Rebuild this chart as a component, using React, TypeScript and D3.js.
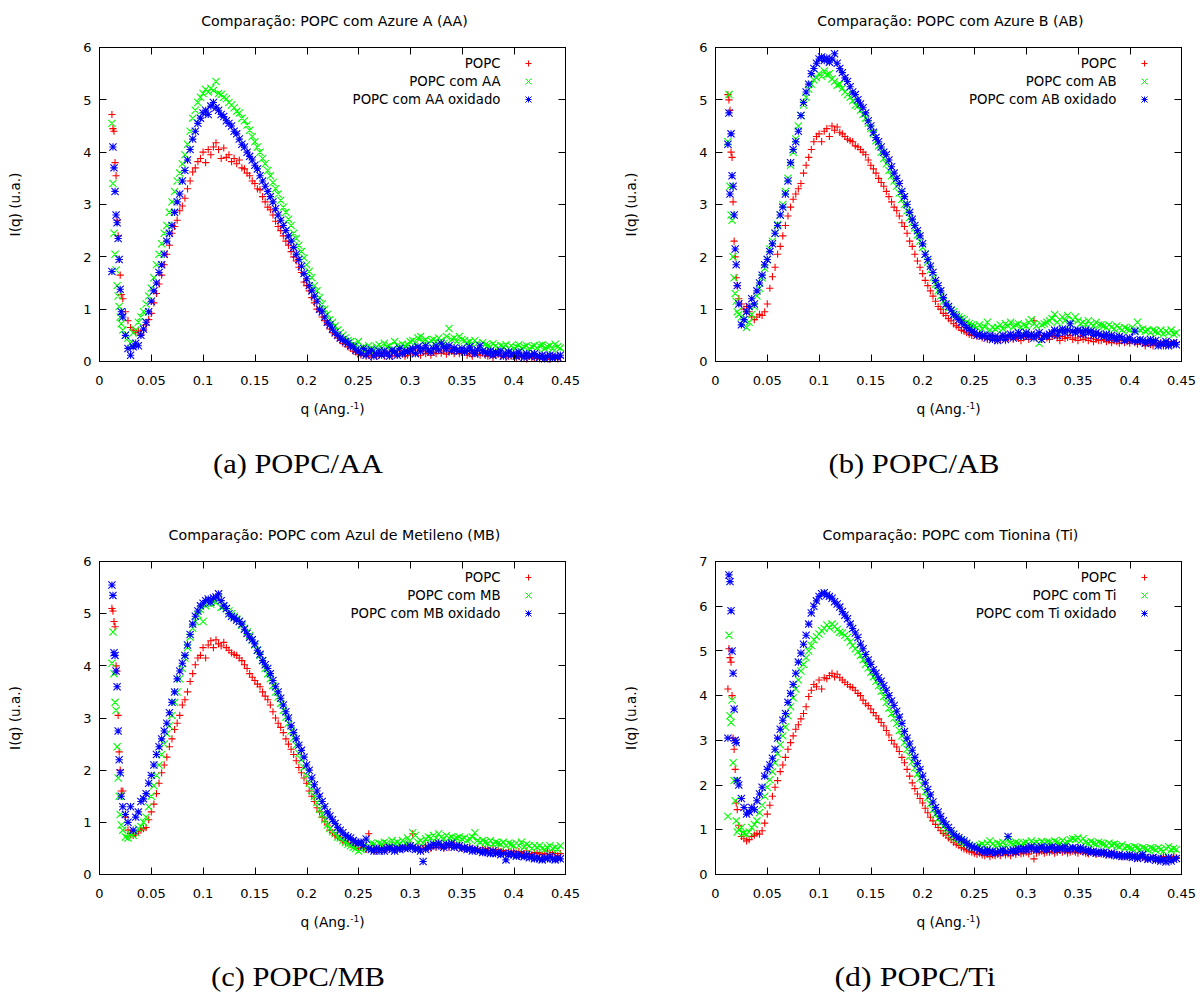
import React from 'react';
import * as d3 from 'd3';

// shared q grid (Ang^-1)
const Q = [
  0.012, 0.013, 0.014, 0.015, 0.016, 0.017, 0.018, 0.019, 0.020, 0.021,
  0.0225, 0.025, 0.0275, 0.03, 0.0325, 0.035, 0.0375, 0.04, 0.0425, 0.045,
  0.0475, 0.05, 0.0525, 0.055, 0.0575, 0.06, 0.0625, 0.065, 0.0675, 0.07,
  0.0725, 0.075, 0.0775, 0.08, 0.0825, 0.085, 0.0875, 0.09, 0.0925, 0.095,
  0.0975, 0.1, 0.1025, 0.105, 0.1075, 0.11, 0.1125, 0.115, 0.1175, 0.12,
  0.1225, 0.125, 0.1275, 0.13, 0.1325, 0.135, 0.1375, 0.14, 0.1425, 0.145,
  0.1475, 0.15, 0.1525, 0.155, 0.1575, 0.16, 0.1625, 0.165, 0.1675, 0.17,
  0.1725, 0.175, 0.1775, 0.18, 0.1825, 0.185, 0.1875, 0.19, 0.1925, 0.195,
  0.1975, 0.2, 0.2025, 0.205, 0.2075, 0.21, 0.2125, 0.215, 0.2175, 0.22,
  0.2225, 0.225, 0.2275, 0.23, 0.2325, 0.235, 0.2375, 0.24, 0.2425, 0.245,
  0.2475, 0.25, 0.2525, 0.255, 0.2575, 0.26, 0.2625, 0.265, 0.2675, 0.27,
  0.2725, 0.275, 0.2775, 0.28, 0.2825, 0.285, 0.2875, 0.29, 0.2925, 0.295,
  0.2975, 0.3, 0.3025, 0.305, 0.3075, 0.31, 0.3125, 0.315, 0.3175, 0.32,
  0.3225, 0.325, 0.3275, 0.33, 0.3325, 0.335, 0.3375, 0.34, 0.3425, 0.345,
  0.3475, 0.35, 0.3525, 0.355, 0.3575, 0.36, 0.3625, 0.365, 0.3675, 0.37,
  0.3725, 0.375, 0.3775, 0.38, 0.3825, 0.385, 0.3875, 0.39, 0.3925, 0.395,
  0.3975, 0.4, 0.4025, 0.405, 0.4075, 0.41, 0.4125, 0.415, 0.4175, 0.42,
  0.4225, 0.425, 0.4275, 0.43, 0.4325, 0.435, 0.4375, 0.44, 0.4425, 0.445,
];

// ---------- (a) Azure A ----------
const A_POPC = [
  4.72, 4.45, 4.4, 3.8, 3.55, 2.7, 2.4, 1.95, 1.65, 1.28,
  1.2, 0.95, 0.78, 0.65, 0.6, 0.55, 0.58, 0.52, 0.6, 0.7,
  0.8, 0.92, 1.12, 1.3, 1.48, 1.65, 1.85, 2.05, 2.22, 2.45,
  2.58, 2.7, 2.88, 2.97, 3.12, 3.3, 3.45, 3.62, 3.7, 3.82,
  3.88, 4.0, 3.8, 4.05, 3.95, 4.1, 4.18, 4.05, 3.88, 4.08,
  3.9, 3.95, 3.82, 3.88, 3.78, 3.85, 3.7, 3.68, 3.6, 3.55,
  3.45, 3.4, 3.3, 3.28, 3.15, 3.05, 2.95, 2.9, 2.8, 2.68,
  2.58, 2.5, 2.4, 2.3, 2.22, 2.1, 2.0, 1.92, 1.8, 1.7,
  1.52, 1.45, 1.35, 1.22, 1.12, 1.0, 0.95, 0.85, 0.78, 0.7,
  0.62, 0.55, 0.52, 0.45, 0.4, 0.35, 0.33, 0.28, 0.25, 0.2,
  0.18, 0.14, 0.12, 0.15, 0.1, 0.12, 0.08, 0.14, 0.1, 0.12,
  0.15, 0.1, 0.18, 0.12, 0.1, 0.16, 0.12, 0.2, 0.14, 0.1,
  0.12, 0.18, 0.15, 0.22, 0.16, 0.12, 0.2, 0.15, 0.18, 0.12,
  0.18, 0.15, 0.22, 0.16, 0.2, 0.14, 0.18, 0.25, 0.15, 0.2,
  0.15, 0.2, 0.18, 0.12, 0.15, 0.1, 0.18, 0.14, 0.12, 0.16,
  0.12, 0.1, 0.15, 0.08, 0.12, 0.14, 0.1, 0.12, 0.08, 0.1,
  0.1, 0.12, 0.06, 0.1, 0.08, 0.12, 0.05, 0.1, 0.08, 0.06,
  0.08, 0.05, 0.1, 0.06, 0.08, 0.04, 0.1, 0.06, 0.05, 0.08,
];
const A_DYE = [
  4.55, 3.4, 2.45, 2.05, 1.75, 1.45, 1.25, 1.05, 0.85, 0.72,
  0.6, 0.5, 0.45, 0.35, 0.55, 0.6, 0.75, 0.85, 0.95, 1.1,
  1.25, 1.4, 1.6, 1.85, 2.05, 2.25, 2.45, 2.6, 2.85, 3.05,
  3.25, 3.45, 3.6, 3.78, 3.95, 4.15, 4.4, 4.65, 4.8, 4.95,
  5.05, 5.12, 5.2, 5.15, 5.22, 5.18, 5.35, 5.12, 5.1, 5.05,
  5.02, 4.95, 4.9, 4.85, 4.78, 4.75, 4.65, 4.6, 4.52, 4.42,
  4.3, 4.2, 4.1, 4.0, 3.88, 3.78, 3.65, 3.55, 3.42, 3.3,
  3.2, 3.08, 2.95, 2.85, 2.72, 2.6, 2.45, 2.35, 2.22, 2.1,
  1.98, 1.85, 1.72, 1.6, 1.45, 1.35, 1.22, 1.1, 1.0, 0.9,
  0.8, 0.75, 0.68, 0.6, 0.55, 0.5, 0.45, 0.4, 0.38, 0.32,
  0.3, 0.38, 0.25, 0.28, 0.22, 0.3, 0.26, 0.2, 0.28, 0.32,
  0.25, 0.35, 0.28, 0.3, 0.22, 0.38, 0.3, 0.26, 0.33, 0.3,
  0.32, 0.38, 0.4, 0.35, 0.45, 0.48, 0.38, 0.42, 0.35, 0.4,
  0.42, 0.38, 0.45, 0.4, 0.35, 0.48, 0.63, 0.42, 0.45, 0.38,
  0.48, 0.42, 0.4, 0.36, 0.38, 0.32, 0.4, 0.35, 0.3, 0.36,
  0.32, 0.3, 0.28, 0.34, 0.3, 0.26, 0.3, 0.28, 0.32, 0.25,
  0.3, 0.26, 0.28, 0.32, 0.25, 0.28, 0.3, 0.24, 0.28, 0.3,
  0.26, 0.3, 0.32, 0.25, 0.28, 0.3, 0.24, 0.33, 0.28, 0.26,
];
const A_OX = [
  1.72, 4.1, 3.7, 3.25, 2.8, 2.65, 2.35, 1.95, 1.38, 0.95,
  0.85, 0.5, 0.25, 0.12, 0.28, 0.35, 0.3, 0.5, 0.62, 0.75,
  0.95, 1.15, 1.35, 1.5, 1.7, 1.85, 2.05, 2.3, 2.45, 2.6,
  2.85, 3.05, 3.2, 3.45, 3.65, 3.85, 4.05, 4.25, 4.4, 4.55,
  4.65, 4.75, 4.8, 4.72, 4.88, 4.95, 4.85, 4.8, 4.72, 4.68,
  4.6, 4.55, 4.5, 4.4, 4.35, 4.25, 4.15, 4.1, 4.0, 3.92,
  3.85, 3.75, 3.68, 3.55, 3.45, 3.35, 3.25, 3.15, 3.05, 2.92,
  2.8, 2.7, 2.6, 2.5, 2.4, 2.3, 2.18, 2.05, 1.95, 1.82,
  1.68, 1.58, 1.45, 1.35, 1.25, 1.15, 1.0, 0.95, 0.85, 0.75,
  0.7, 0.62, 0.55, 0.5, 0.45, 0.42, 0.38, 0.35, 0.3, 0.28,
  0.22, 0.2, 0.15, 0.25, 0.12, 0.18, 0.22, 0.1, 0.15, 0.2,
  0.12, 0.2, 0.15, 0.1, 0.22, 0.18, 0.12, 0.25, 0.15, 0.2,
  0.18, 0.22, 0.25, 0.15, 0.28, 0.2, 0.25, 0.3, 0.22, 0.18,
  0.25, 0.3, 0.22, 0.35, 0.28, 0.24, 0.3, 0.2, 0.26, 0.22,
  0.2, 0.25, 0.18, 0.22, 0.28, 0.2, 0.15, 0.22, 0.3, 0.2,
  0.18, 0.15, 0.2, 0.12, 0.18, 0.15, 0.2, 0.1, 0.15, 0.18,
  0.12, 0.15, 0.1, 0.18, 0.12, 0.08, 0.15, 0.1, 0.12, 0.15,
  0.1, 0.08, 0.12, 0.05, 0.1, 0.12, 0.06, 0.1, 0.08, 0.12,
];

// ---------- (b) Azure B ----------
const B_POPC = [
  5.1, 5.0, 4.8, 4.0, 3.9, 3.05, 2.3, 2.0, 1.6, 1.45,
  1.2, 1.1, 1.0, 1.05, 0.95, 0.85, 0.8, 0.85, 0.9, 0.88,
  0.95, 1.1, 1.4, 1.62, 1.8, 2.05, 2.2, 2.4, 2.6, 2.78,
  2.95, 3.1, 3.2, 3.3, 3.4, 3.6, 3.75, 3.9, 4.05, 4.2,
  4.3, 4.35, 4.2, 4.4, 4.45, 4.3, 4.5, 4.42, 4.48, 4.38,
  4.35, 4.3, 4.25, 4.22, 4.2, 4.12, 4.1, 4.05, 4.0, 3.95,
  3.85, 3.75, 3.68, 3.6, 3.5, 3.42, 3.35, 3.25, 3.15, 3.05,
  2.95, 2.88, 2.78, 2.65, 2.58, 2.45, 2.3, 2.2, 2.05, 1.92,
  1.8, 1.68, 1.55, 1.45, 1.35, 1.25, 1.15, 1.05, 1.0, 0.92,
  0.88, 0.82, 0.78, 0.72, 0.68, 0.65, 0.6, 0.58, 0.55, 0.52,
  0.5, 0.52, 0.48, 0.5, 0.45, 0.48, 0.42, 0.45, 0.48, 0.4,
  0.45, 0.42, 0.48, 0.4, 0.45, 0.5, 0.42, 0.46, 0.44, 0.4,
  0.45, 0.5, 0.42, 0.48, 0.78, 0.45, 0.5, 0.42, 0.48, 0.45,
  0.42, 0.48, 0.5, 0.45, 0.4, 0.48, 0.44, 0.46, 0.5, 0.42,
  0.45, 0.4, 0.48, 0.42, 0.45, 0.4, 0.44, 0.38, 0.42, 0.4,
  0.4, 0.42, 0.38, 0.4, 0.36, 0.4, 0.38, 0.35, 0.4, 0.36,
  0.38, 0.35, 0.4, 0.36, 0.33, 0.38, 0.35, 0.3, 0.35, 0.32,
  0.3, 0.35, 0.32, 0.36, 0.3, 0.34, 0.38, 0.32, 0.35, 0.36,
];
const B_DYE = [
  4.2, 5.1, 3.35, 2.8, 2.7, 2.0, 1.6, 1.3, 1.15, 0.95,
  0.9, 0.85, 0.8, 0.65, 0.75, 0.9, 1.05, 1.25, 1.4, 1.6,
  1.78, 1.95, 2.15, 2.3, 2.45, 2.62, 2.8, 3.0, 3.25, 3.5,
  3.75, 4.0, 4.25, 4.5, 4.7, 4.9, 5.05, 5.2, 5.3, 5.38,
  5.42, 5.5, 5.45, 5.55, 5.48, 5.5, 5.4, 5.35, 5.28, 5.3,
  5.22, 5.15, 5.1, 5.05, 4.98, 4.9, 4.88, 4.8, 4.72, 4.65,
  4.55, 4.45, 4.35, 4.22, 4.12, 4.0, 3.88, 3.78, 3.65, 3.55,
  3.45, 3.35, 3.22, 3.1, 3.0, 2.88, 2.75, 2.65, 2.55, 2.42,
  2.3, 2.18, 2.05, 1.9, 1.75, 1.6, 1.48, 1.35, 1.25, 1.15,
  1.08, 1.02, 0.98, 0.95, 0.9, 0.85, 0.82, 0.8, 0.75, 0.72,
  0.7, 0.68, 0.65, 0.7, 0.62, 0.66, 0.75, 0.6, 0.65, 0.62,
  0.65, 0.7, 0.62, 0.72, 0.68, 0.75, 0.66, 0.7, 0.72, 0.65,
  0.7, 0.68, 0.75, 0.8, 0.72, 0.68, 0.35, 0.7, 0.72, 0.75,
  0.78, 0.82, 0.9, 0.75, 0.8, 0.85, 0.78, 0.88, 0.72, 0.8,
  0.85, 0.78, 0.72, 0.75, 0.7, 0.78, 0.72, 0.68, 0.75, 0.7,
  0.7, 0.68, 0.65, 0.7, 0.66, 0.62, 0.68, 0.64, 0.6, 0.65,
  0.62, 0.6, 0.65, 0.58, 0.75, 0.6, 0.62, 0.58, 0.6, 0.55,
  0.6, 0.58, 0.55, 0.6, 0.52, 0.58, 0.55, 0.6, 0.52, 0.55,
];
const B_OX = [
  4.15, 4.75, 3.2, 4.35, 3.55, 3.35, 2.8, 2.15, 1.85, 1.45,
  1.1, 0.7, 0.8, 0.95, 1.05, 1.2, 1.1, 1.35, 1.5, 1.65,
  1.85, 1.95, 2.1, 2.25, 2.45, 2.6, 2.8, 2.95, 3.2, 3.45,
  3.8, 4.05, 4.2, 4.4, 4.7, 4.95, 5.15, 5.3, 5.5, 5.6,
  5.7, 5.78, 5.82, 5.75, 5.8, 5.72, 5.78, 5.88, 5.7, 5.6,
  5.52, 5.42, 5.35, 5.25, 5.15, 5.1, 5.0, 4.92, 4.85, 4.75,
  4.6, 4.5, 4.38, 4.28, 4.2, 4.1, 4.0, 3.95, 3.85, 3.72,
  3.6, 3.5, 3.4, 3.25, 3.15, 3.0, 2.85, 2.72, 2.6, 2.5,
  2.4, 2.25, 2.05, 1.95, 1.82, 1.7, 1.55, 1.45, 1.35, 1.22,
  1.1, 1.05, 0.98, 0.9, 0.85, 0.8, 0.75, 0.7, 0.65, 0.62,
  0.58, 0.55, 0.5, 0.52, 0.48, 0.5, 0.45, 0.5, 0.42, 0.48,
  0.4, 0.45, 0.5, 0.42, 0.48, 0.52, 0.45, 0.5, 0.55, 0.48,
  0.5, 0.55, 0.48, 0.52, 0.45, 0.5, 0.55, 0.42, 0.5, 0.48,
  0.52, 0.55, 0.6, 0.5, 0.58, 0.62, 0.55, 0.6, 0.72, 0.58,
  0.55, 0.6, 0.58, 0.52, 0.6, 0.55, 0.58, 0.5, 0.55, 0.52,
  0.5, 0.48, 0.52, 0.45, 0.5, 0.46, 0.42, 0.48, 0.45, 0.4,
  0.42, 0.45, 0.4, 0.58, 0.38, 0.42, 0.4, 0.35, 0.38, 0.42,
  0.36, 0.4, 0.3, 0.35, 0.32, 0.38, 0.3, 0.34, 0.36, 0.32,
];

// ---------- (c) Azul de Metileno ----------
const C_POPC = [
  5.1, 5.05, 4.85, 4.75, 4.0, 3.9, 3.05, 2.35, 2.0, 1.6,
  1.6, 1.1, 0.85, 0.78, 0.75, 0.78, 0.82, 0.85, 0.88, 0.9,
  1.05, 1.2, 1.35, 1.55, 1.75, 1.95, 2.1, 2.25, 2.45, 2.6,
  2.78, 2.9, 3.05, 3.25, 3.35, 3.5, 3.7, 3.85, 4.02, 4.15,
  4.2, 4.35, 4.15, 4.4, 4.48, 4.35, 4.5, 4.42, 4.38, 4.45,
  4.35, 4.3, 4.25, 4.22, 4.2, 4.15, 4.1, 4.02, 3.95, 3.85,
  3.78, 3.72, 3.65, 3.6, 3.5, 3.42, 3.35, 3.25, 3.12, 3.0,
  2.9, 2.82, 2.72, 2.6, 2.5, 2.4, 2.3, 2.18, 2.05, 1.95,
  1.85, 1.75, 1.6, 1.5, 1.4, 1.28, 1.2, 1.1, 1.02, 0.95,
  0.85, 0.8, 0.75, 0.72, 0.7, 0.65, 0.62, 0.6, 0.58, 0.55,
  0.55, 0.5, 0.52, 0.5, 0.48, 0.78, 0.5, 0.45, 0.48, 0.5,
  0.5, 0.52, 0.48, 0.5, 0.55, 0.5, 0.48, 0.52, 0.5, 0.55,
  0.52, 0.55, 0.78, 0.5, 0.52, 0.48, 0.5, 0.55, 0.52, 0.5,
  0.55, 0.52, 0.58, 0.55, 0.5, 0.56, 0.52, 0.55, 0.58, 0.52,
  0.55, 0.5, 0.52, 0.48, 0.52, 0.5, 0.48, 0.5, 0.46, 0.48,
  0.48, 0.5, 0.46, 0.48, 0.45, 0.48, 0.44, 0.46, 0.42, 0.45,
  0.42, 0.45, 0.4, 0.44, 0.42, 0.4, 0.45, 0.4, 0.38, 0.42,
  0.4, 0.42, 0.38, 0.4, 0.45, 0.38, 0.42, 0.4, 0.36, 0.4,
];
const C_DYE = [
  4.05, 4.65, 3.85, 3.3, 3.15, 2.45, 1.85, 1.5, 1.15, 0.95,
  0.85, 0.72, 0.7, 0.78, 0.75, 0.8, 0.88, 0.92, 1.0, 1.1,
  1.3, 1.5, 1.7, 1.9, 2.1, 2.3, 2.5, 2.7, 2.85, 3.05,
  3.3, 3.5, 3.75, 3.95, 4.15, 4.35, 4.55, 4.72, 4.85, 4.98,
  5.08, 4.85, 5.15, 5.2, 5.18, 5.25, 5.22, 5.3, 5.12, 5.15,
  5.1, 5.05, 5.0, 4.95, 4.9, 4.85, 4.78, 4.72, 4.65, 4.58,
  4.5, 4.4, 4.3, 4.2, 4.1, 3.95, 3.85, 3.75, 3.62, 3.5,
  3.4, 3.28, 3.15, 3.02, 2.9, 2.75, 2.62, 2.48, 2.32, 2.2,
  2.05, 1.9, 1.75, 1.62, 1.5, 1.38, 1.25, 1.15, 1.05, 0.95,
  0.88, 0.82, 0.78, 0.72, 0.7, 0.65, 0.62, 0.58, 0.55, 0.52,
  0.5, 0.45, 0.48, 0.52, 0.5, 0.55, 0.6, 0.58, 0.55, 0.6,
  0.58, 0.62, 0.6, 0.55, 0.65, 0.6, 0.62, 0.58, 0.65, 0.6,
  0.7, 0.65, 0.8, 0.75, 0.62, 0.65, 0.6, 0.68, 0.72, 0.7,
  0.75, 0.7, 0.78, 0.72, 0.68, 0.75, 0.7, 0.72, 0.68, 0.7,
  0.72, 0.68, 0.7, 0.65, 0.68, 0.72, 0.8, 0.65, 0.62, 0.65,
  0.62, 0.6, 0.65, 0.58, 0.62, 0.6, 0.58, 0.62, 0.55, 0.6,
  0.58, 0.55, 0.6, 0.55, 0.62, 0.52, 0.58, 0.55, 0.5, 0.55,
  0.52, 0.55, 0.5, 0.48, 0.52, 0.55, 0.5, 0.52, 0.48, 0.55,
];
const C_OX = [
  5.55, 5.35, 4.25, 4.2, 3.9, 3.6, 2.75, 2.2, 1.95, 1.5,
  1.3, 1.15, 1.0, 1.3, 0.85, 1.1, 1.2, 1.4, 1.45, 1.55,
  1.75, 1.9, 2.1, 2.3, 2.45, 2.6, 2.75, 2.9, 3.1, 3.3,
  3.5, 3.75, 3.9, 4.05, 4.2, 4.4, 4.6, 4.8, 4.95, 5.05,
  5.15, 5.2, 5.25, 5.28, 5.22, 5.3, 5.32, 5.38, 5.25, 5.15,
  5.1, 5.0, 4.95, 4.92, 4.88, 4.85, 4.8, 4.7, 4.62, 4.55,
  4.5, 4.42, 4.3, 4.22, 4.1, 4.02, 3.95, 3.85, 3.72, 3.6,
  3.5, 3.38, 3.25, 3.12, 3.0, 2.85, 2.72, 2.6, 2.48, 2.38,
  2.25, 2.1, 2.0, 1.85, 1.72, 1.6, 1.5, 1.4, 1.3, 1.2,
  1.12, 1.05, 0.98, 0.9, 0.85, 0.8, 0.75, 0.72, 0.7, 0.65,
  0.62, 0.6, 0.62, 0.55, 0.68, 0.5, 0.48, 0.45, 0.5, 0.45,
  0.48, 0.45, 0.5, 0.52, 0.48, 0.45, 0.5, 0.48, 0.52, 0.5,
  0.5, 0.55, 0.52, 0.48, 0.5, 0.45, 0.25, 0.48, 0.52, 0.55,
  0.58, 0.55, 0.6, 0.55, 0.52, 0.58, 0.55, 0.6, 0.52, 0.55,
  0.55, 0.5, 0.52, 0.48, 0.5, 0.45, 0.48, 0.46, 0.45, 0.42,
  0.45, 0.42, 0.4, 0.45, 0.4, 0.42, 0.38, 0.4, 0.28, 0.38,
  0.4, 0.38, 0.35, 0.38, 0.36, 0.34, 0.38, 0.32, 0.35, 0.3,
  0.32, 0.3, 0.28, 0.32, 0.3, 0.35, 0.3, 0.28, 0.32, 0.3,
];

// ---------- (d) Tionina ----------
const D_POPC = [
  4.15, 5.05, 4.85, 4.75, 4.0, 3.05, 2.8, 2.35, 1.6, 1.45,
  1.1, 0.85, 0.8, 0.75, 0.78, 0.85, 0.88, 0.92, 0.9, 0.98,
  1.15, 1.35, 1.55, 1.75, 1.95, 2.1, 2.3, 2.45, 2.62, 2.8,
  2.95, 3.1, 3.25, 3.35, 3.48, 3.6, 3.75, 3.98, 4.12, 4.25,
  4.2, 4.35, 4.15, 4.4, 4.38, 4.45, 4.5, 4.42, 4.48, 4.4,
  4.35, 4.3, 4.25, 4.2, 4.18, 4.12, 4.05, 4.0, 3.9, 3.82,
  3.78, 3.7, 3.62, 3.55, 3.48, 3.4, 3.32, 3.22, 3.12, 3.0,
  2.92, 2.85, 2.75, 2.62, 2.5, 2.35, 2.2, 2.05, 1.92, 1.8,
  1.7, 1.6, 1.48, 1.38, 1.28, 1.2, 1.12, 1.05, 0.98, 0.92,
  0.88, 0.82, 0.78, 0.72, 0.68, 0.65, 0.6, 0.57, 0.55, 0.52,
  0.5, 0.48, 0.45, 0.48, 0.44, 0.42, 0.45, 0.4, 0.44, 0.42,
  0.45, 0.42, 0.48, 0.44, 0.46, 0.42, 0.48, 0.45, 0.5, 0.46,
  0.48, 0.5, 0.46, 0.52, 0.35, 0.48, 0.5, 0.52, 0.48, 0.5,
  0.5, 0.52, 0.48, 0.5, 0.54, 0.5, 0.52, 0.48, 0.5, 0.52,
  0.5, 0.48, 0.52, 0.5, 0.48, 0.46, 0.5, 0.48, 0.45, 0.48,
  0.46, 0.48, 0.44, 0.46, 0.42, 0.45, 0.42, 0.44, 0.4, 0.42,
  0.4, 0.42, 0.38, 0.4, 0.36, 0.4, 0.38, 0.35, 0.38, 0.36,
  0.36, 0.38, 0.34, 0.36, 0.4, 0.35, 0.38, 0.36, 0.4, 0.38,
];
const D_DYE = [
  1.3, 5.35, 3.55, 3.4, 3.9, 2.5, 2.1, 1.65, 1.2, 0.95,
  1.0, 1.05, 0.92, 0.9, 0.95, 1.05, 1.12, 1.2, 1.38, 1.55,
  1.75, 1.95, 2.12, 2.3, 2.5, 2.7, 2.9, 3.1, 3.3, 3.55,
  3.75, 3.95, 4.15, 4.35, 4.55, 4.7, 4.85, 5.0, 5.12, 5.25,
  5.32, 5.38, 5.45, 5.5, 5.58, 5.52, 5.6, 5.55, 5.48, 5.42,
  5.4, 5.35, 5.3, 5.2, 5.12, 5.05, 4.98, 4.9, 4.8, 4.7,
  4.62, 4.52, 4.42, 4.32, 4.22, 4.1, 3.98, 3.85, 3.72, 3.6,
  3.5, 3.38, 3.22, 3.1, 2.95, 2.8, 2.65, 2.52, 2.38, 2.25,
  2.15, 2.0, 1.85, 1.72, 1.58, 1.45, 1.35, 1.25, 1.15, 1.08,
  1.0, 0.95, 0.9, 0.85, 0.8, 0.78, 0.74, 0.7, 0.68, 0.65,
  0.62, 0.6, 0.62, 0.65, 0.68, 0.65, 0.7, 0.75, 0.68, 0.65,
  0.7, 0.68, 0.72, 0.65, 0.78, 0.7, 0.68, 0.72, 0.7, 0.66,
  0.7, 0.72, 0.68, 0.75, 0.7, 0.72, 0.68, 0.74, 0.7, 0.72,
  0.72, 0.7, 0.75, 0.72, 0.68, 0.76, 0.7, 0.72, 0.78, 0.8,
  0.78, 0.82, 0.75, 0.8, 0.72, 0.7, 0.74, 0.7, 0.68, 0.72,
  0.7, 0.68, 0.65, 0.7, 0.66, 0.68, 0.64, 0.62, 0.66, 0.6,
  0.62, 0.6, 0.58, 0.62, 0.6, 0.56, 0.6, 0.58, 0.55, 0.6,
  0.58, 0.55, 0.6, 0.56, 0.52, 0.58, 0.62, 0.55, 0.58, 0.56,
];
const D_OX = [
  3.05, 6.7, 6.55, 5.9, 5.0, 4.5, 3.7, 3.0, 2.95, 2.1,
  2.0, 1.7, 1.5, 1.35, 1.4, 1.5, 1.45, 1.65, 1.8, 1.95,
  2.2, 2.35, 2.45, 2.6, 2.8, 3.05, 3.25, 3.45, 3.6, 3.85,
  4.05, 4.25, 4.5, 4.75, 4.95, 5.15, 5.35, 5.6, 5.85, 6.0,
  6.12, 6.22, 6.28, 6.3, 6.25, 6.22, 6.18, 6.1, 6.05, 5.98,
  5.88, 5.8, 5.72, 5.6, 5.5, 5.4, 5.3, 5.15, 5.05, 4.92,
  4.8, 4.7, 4.58, 4.5, 4.4, 4.32, 4.22, 4.12, 4.0, 3.88,
  3.78, 3.65, 3.52, 3.38, 3.2, 3.05, 2.92, 2.78, 2.62, 2.48,
  2.35, 2.2, 2.05, 1.9, 1.78, 1.62, 1.5, 1.4, 1.3, 1.2,
  1.12, 1.05, 0.98, 0.9, 0.85, 0.82, 0.78, 0.75, 0.7, 0.65,
  0.62, 0.6, 0.58, 0.55, 0.52, 0.5, 0.55, 0.5, 0.52, 0.48,
  0.5, 0.52, 0.55, 0.5, 0.85, 0.52, 0.55, 0.5, 0.58, 0.55,
  0.58, 0.55, 0.6, 0.62, 0.58, 0.55, 0.6, 0.62, 0.58, 0.55,
  0.6, 0.62, 0.58, 0.55, 0.6, 0.58, 0.62, 0.55, 0.58, 0.6,
  0.58, 0.55, 0.6, 0.56, 0.52, 0.55, 0.5, 0.52, 0.48, 0.5,
  0.48, 0.5, 0.46, 0.44, 0.48, 0.45, 0.42, 0.44, 0.4, 0.42,
  0.4, 0.44, 0.38, 0.42, 0.36, 0.4, 0.45, 0.38, 0.34, 0.36,
  0.38, 0.32, 0.36, 0.3, 0.35, 0.28, 0.38, 0.3, 0.34, 0.36,
];

const X_TICKS = [0, 0.05, 0.1, 0.15, 0.2, 0.25, 0.3, 0.35, 0.4, 0.45];
const X_TICK_LABELS = ['0', '0.05', '0.1', '0.15', '0.2', '0.25', '0.3', '0.35', '0.4', '0.45'];
const TITLES = [
  'Comparação: POPC com Azure A (AA)',
  'Comparação: POPC com Azure B (AB)',
  'Comparação: POPC com Azul de Metileno (MB)',
  'Comparação: POPC com Tionina (Ti)',
];
const DYES = ['AA', 'AB', 'MB', 'Ti'];
const CAPTIONS = ['(a) POPC/AA', '(b) POPC/AB', '(c) POPC/MB', '(d) POPC/Ti'];
const Y_MAX = [6, 6, 6, 7];
const SERIES = [
  [A_POPC, A_DYE, A_OX],
  [B_POPC, B_DYE, B_OX],
  [C_POPC, C_DYE, C_OX],
  [D_POPC, D_DYE, D_OX],
];

// layout (not data)
const LAYOUT = [
  { left: 99.5, right: 565.5, top: 47.5, bottom: 361.5, capX: 298, capW: 170 },
  { left: 715.5, right: 1181.5, top: 47.5, bottom: 361.5, capX: 914, capW: 171 },
  { left: 99.5, right: 565.5, top: 561.5, bottom: 874.5, capX: 298, capW: 174 },
  { left: 715.5, right: 1181.5, top: 561.5, bottom: 874.5, capX: 915, capW: 161 },
];
const COLORS = ['#ff0000', '#00ff00', '#0000ff'];
const SHAPES = ['plus', 'cross', 'star'];
const SANS = 'DejaVu Sans, Verdana, sans-serif';

function addMarker(p: d3.Path, shape: string, cx: number, cy: number, r: number) {
  if (shape === 'plus' || shape === 'star') {
    p.moveTo(cx - r, cy);
    p.lineTo(cx + r, cy);
    p.moveTo(cx, cy - r);
    p.lineTo(cx, cy + r);
  }
  if (shape === 'cross' || shape === 'star') {
    const s = r;
    p.moveTo(cx - s, cy - s);
    p.lineTo(cx + s, cy + s);
    p.moveTo(cx - s, cy + s);
    p.lineTo(cx + s, cy - s);
  }
}

function Panel({ idx }: { idx: number }) {
  const L = LAYOUT[idx];
  const yMax = Y_MAX[idx];
  const x = d3.scaleLinear().domain([0, 0.45]).range([L.left, L.right]);
  const y = d3.scaleLinear().domain([0, yMax]).range([L.bottom, L.top]);
  const yTicks = d3.range(0, yMax + 1);
  const dye = DYES[idx];
  const labels = ['POPC', `POPC com ${dye}`, `POPC com ${dye} oxidado`];
  const cx = (L.left + L.right) / 2;
  const cy = (L.top + L.bottom) / 2;
  const tl = 7;

  const seriesPaths = SERIES[idx].map((vals, si) => {
    const p = d3.path();
    vals.forEach((v, i) => {
      const q = Q[i];
      if (q === undefined || v === undefined) return;
      addMarker(p, SHAPES[si], x(q), y(v), 3.6);
    });
    return p.toString();
  });

  const legendPaths = SHAPES.map((s, si) => {
    const p = d3.path();
    addMarker(p, s, L.right - 37, L.top + 16 + si * 18, 3);
    return p.toString();
  });

  return (
    <g>
      <text x={cx + 2} y={L.top - 22} textAnchor="middle" fontFamily={SANS} fontSize={14.2} fill="#000">
        {TITLES[idx]}
      </text>
      {seriesPaths.map((d, si) => (
        <path key={si} d={d} stroke={COLORS[si]} strokeWidth={1.1} fill="none" />
      ))}
      <rect x={L.left} y={L.top} width={L.right - L.left} height={L.bottom - L.top} fill="none" stroke="#000" strokeWidth={1} />
      {X_TICKS.map((t, i) => {
        const xx = Math.round(x(t)) + 0.5;
        return (
          <g key={'x' + i}>
            {i > 0 && i < X_TICKS.length - 1 && (
              <>
                <line x1={xx} x2={xx} y1={L.bottom} y2={L.bottom - tl} stroke="#000" strokeWidth={1} />
                <line x1={xx} x2={xx} y1={L.top} y2={L.top + tl} stroke="#000" strokeWidth={1} />
              </>
            )}
            <text x={x(t)} y={L.bottom + 23} textAnchor="middle" fontFamily={SANS} fontSize={13} fill="#000">
              {X_TICK_LABELS[i]}
            </text>
          </g>
        );
      })}
      {yTicks.map((t) => {
        const yy = Math.round(y(t) - 0.5) + 0.5;
        return (
          <g key={'y' + t}>
            {t > 0 && t < yMax && (
              <>
                <line x1={L.left} x2={L.left + tl} y1={yy} y2={yy} stroke="#000" strokeWidth={1} />
                <line x1={L.right} x2={L.right - tl} y1={yy} y2={yy} stroke="#000" strokeWidth={1} />
              </>
            )}
            <text x={L.left - 8} y={y(t) + 4.7} textAnchor="end" fontFamily={SANS} fontSize={13} fill="#000">
              {String(t)}
            </text>
          </g>
        );
      })}
      <text x={cx} y={L.bottom + 52} textAnchor="middle" fontFamily={SANS} fontSize={13.8} fill="#000">
        <tspan>q (Ang.</tspan>
        <tspan dy={-5} fontSize={9}>-1</tspan>
        <tspan dy={5}>)</tspan>
      </text>
      <text
        transform={`translate(${L.left - 80},${cy}) rotate(-90)`}
        textAnchor="middle"
        fontFamily={SANS}
        fontSize={13.6}
        fill="#000"
      >
        I(q) (u.a.)
      </text>
      {labels.map((lab, si) => (
        <text key={'l' + si} x={L.right - 65} y={L.top + 16 + si * 18 + 4.7} textAnchor="end" fontFamily={SANS} fontSize={13.3} fill="#000">
          {lab}
        </text>
      ))}
      {legendPaths.map((d, si) => (
        <path key={'lp' + si} d={d} stroke={COLORS[si]} strokeWidth={1} fill="none" />
      ))}
      <text
        x={L.capX}
        y={L.bottom + 111.5}
        textAnchor="middle"
        fontFamily="Liberation Serif, Times New Roman, serif"
        fontSize={26.5}
        fill="#000"
        textLength={L.capW}
        lengthAdjust="spacingAndGlyphs"
      >
        {CAPTIONS[idx]}
      </text>
    </g>
  );
}

export default function App() {
  return (
    <svg
      width={1200}
      height={992}
      viewBox="0 0 1200 992"
      style={{ position: 'absolute', left: 0, top: 0, background: '#fff' }}
    >
      <rect x={0} y={0} width={1200} height={992} fill="#fff" />
      {[0, 1, 2, 3].map((i) => (
        <Panel key={i} idx={i} />
      ))}
    </svg>
  );
}
